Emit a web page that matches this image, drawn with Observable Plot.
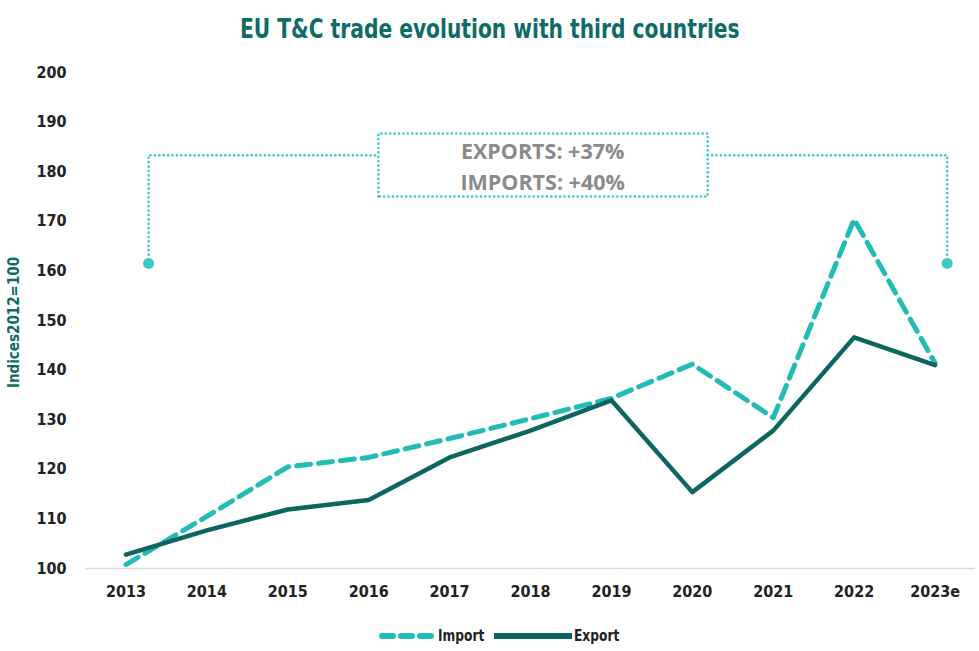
<!DOCTYPE html>
<html>
<head>
<meta charset="utf-8">
<script src="https://cdn.jsdelivr.net/npm/d3@7"></script>
<script src="https://cdn.jsdelivr.net/npm/@observablehq/plot@0.6"></script>
<style>
  body { margin: 0; background: #fff; width: 979px; height: 651px; overflow: hidden; }
  .cond { font-family: "Liberation Sans Narrow", "DejaVu Sans Condensed", "Open Sans", sans-serif; font-weight: bold; }
  #title { height: 55px; line-height: 58px; text-align: center; font-size: 26px; color: #0f6b66; }
  #title span { display: inline-block; transform: scaleX(0.865); }
  #legend { height: 31px; display: flex; justify-content: center; align-items: center; font-size: 16px; color: #222; padding-left: 26px; }
  #legend .item { display: flex; align-items: center; }
  #legend .lbl { display: inline-block; transform: scaleX(0.85); transform-origin: left center; }
</style>
</head>
<body>
<div id="title" class="cond"><span>EU T&amp;C trade evolution with third countries</span></div>
<div id="chart"></div>
<div id="legend" class="cond">
  <span class="item"><svg width="60" height="12"><line x1="4" y1="6" x2="58" y2="6" stroke="#20bcb5" stroke-width="6" stroke-dasharray="11 8" stroke-linecap="round"/></svg><span class="lbl">Import</span></span>
  <span class="item" style="margin-left:0px"><svg width="82" height="12"><line x1="2" y1="6" x2="80" y2="6" stroke="#0d6561" stroke-width="6"/></svg><span class="lbl">Export</span></span>
</div>
<script>
// ---- data ----
const years = ["2013","2014","2015","2016","2017","2018","2019","2020","2021","2022","2023e"];
const importIdx = [100.8, 110.5, 120.5, 122.4, 126.2, 130.2, 134.3, 141.2, 130.4, 170.4, 141.4];
const exportIdx = [102.8, 107.7, 111.9, 113.8, 122.4, 127.8, 133.9, 115.4, 127.8, 146.6, 141.0];
const yTicks = [100, 110, 120, 130, 140, 150, 160, 170, 180, 190, 200];
const noteLines = ["EXPORTS: +37%", "IMPORTS: +40%"];

const imp = years.map((y, i) => ({i, v: importIdx[i]}));
const exp = years.map((y, i) => ({i, v: exportIdx[i]}));

// annotation geometry (in data coordinates: x = year index, y = index value)
const bx0 = 0.28, bx1 = 10.15, bTop = 183.3, bDot = 161.5;
const boxX0 = 3.12, boxX1 = 7.19, boxY0 = 175.0, boxY1 = 187.7;
const bracketLeft = [{x: bx0, y: bDot}, {x: bx0, y: bTop}, {x: boxX0, y: bTop}];
const bracketRight = [{x: boxX1, y: bTop}, {x: bx1, y: bTop}, {x: bx1, y: bDot}];
const boxPath = [{x: boxX0, y: boxY0}, {x: boxX0, y: boxY1}, {x: boxX1, y: boxY1}, {x: boxX1, y: boxY0}, {x: boxX0, y: boxY0}];
const dots = [{x: bx0, y: bDot}, {x: bx1, y: bDot}];
const notes = [{x: 5.15, y: 183.9, t: noteLines[0]}, {x: 5.15, y: 177.8, t: noteLines[1]}];

const dotted = {stroke: "#3cc8c8", strokeWidth: 2.6, strokeDasharray: "0.1 4.3", strokeLinecap: "round"};
const font = '"Liberation Sans Narrow", "DejaVu Sans Condensed", "Open Sans", sans-serif';

const plot = Plot.plot({
  width: 979,
  height: 565,
  marginLeft: 85,
  marginRight: 4,
  marginTop: 17,
  marginBottom: 52,
  style: {fontFamily: font, fontWeight: "bold", fontSize: "16px", color: "#222", background: "#fff"},
  x: {type: "linear", domain: [-0.5, 10.5], axis: null},
  y: {domain: [100, 200], axis: null},
  marks: [
    Plot.ruleY([100], {stroke: "#d9d9d9", strokeWidth: 1.5}),
    Plot.axisY(yTicks, {tickSize: 0, tickPadding: 19, fontSize: 16, fontWeight: "bold", fill: "#222", label: null}),
    Plot.axisX(years.map((d, i) => i), {tickSize: 0, tickPadding: 17, fontSize: 16, fontWeight: "bold", fill: "#222", tickFormat: i => years[i], label: null}),
    Plot.text(["Indices2012=100"], {frameAnchor: "left", textAnchor: "middle", dx: -71, dy: 2, rotate: -90, fontSize: 15, fontWeight: "bold", fill: "#0f6b66"}),
    Plot.line(bracketLeft, {x: "x", y: "y", ...dotted}),
    Plot.line(bracketRight, {x: "x", y: "y", ...dotted}),
    Plot.line(boxPath, {x: "x", y: "y", ...dotted}),
    Plot.dot(dots, {x: "x", y: "y", r: 5.5, fill: "#3cc8c8"}),
    Plot.text(notes, {x: "x", y: "y", text: "t", fill: "#8a8a8a", fontSize: 21.5, fontWeight: "bold", fontFamily: '"Open Sans", sans-serif'}),
    Plot.line(imp, {x: "i", y: "v", stroke: "#20bcb5", strokeWidth: 5, strokeDasharray: "14 8"}),
    Plot.line(exp, {x: "i", y: "v", stroke: "#0d6561", strokeWidth: 4.5})
  ]
});
document.getElementById("chart").appendChild(plot);
</script>
</body>
</html>
